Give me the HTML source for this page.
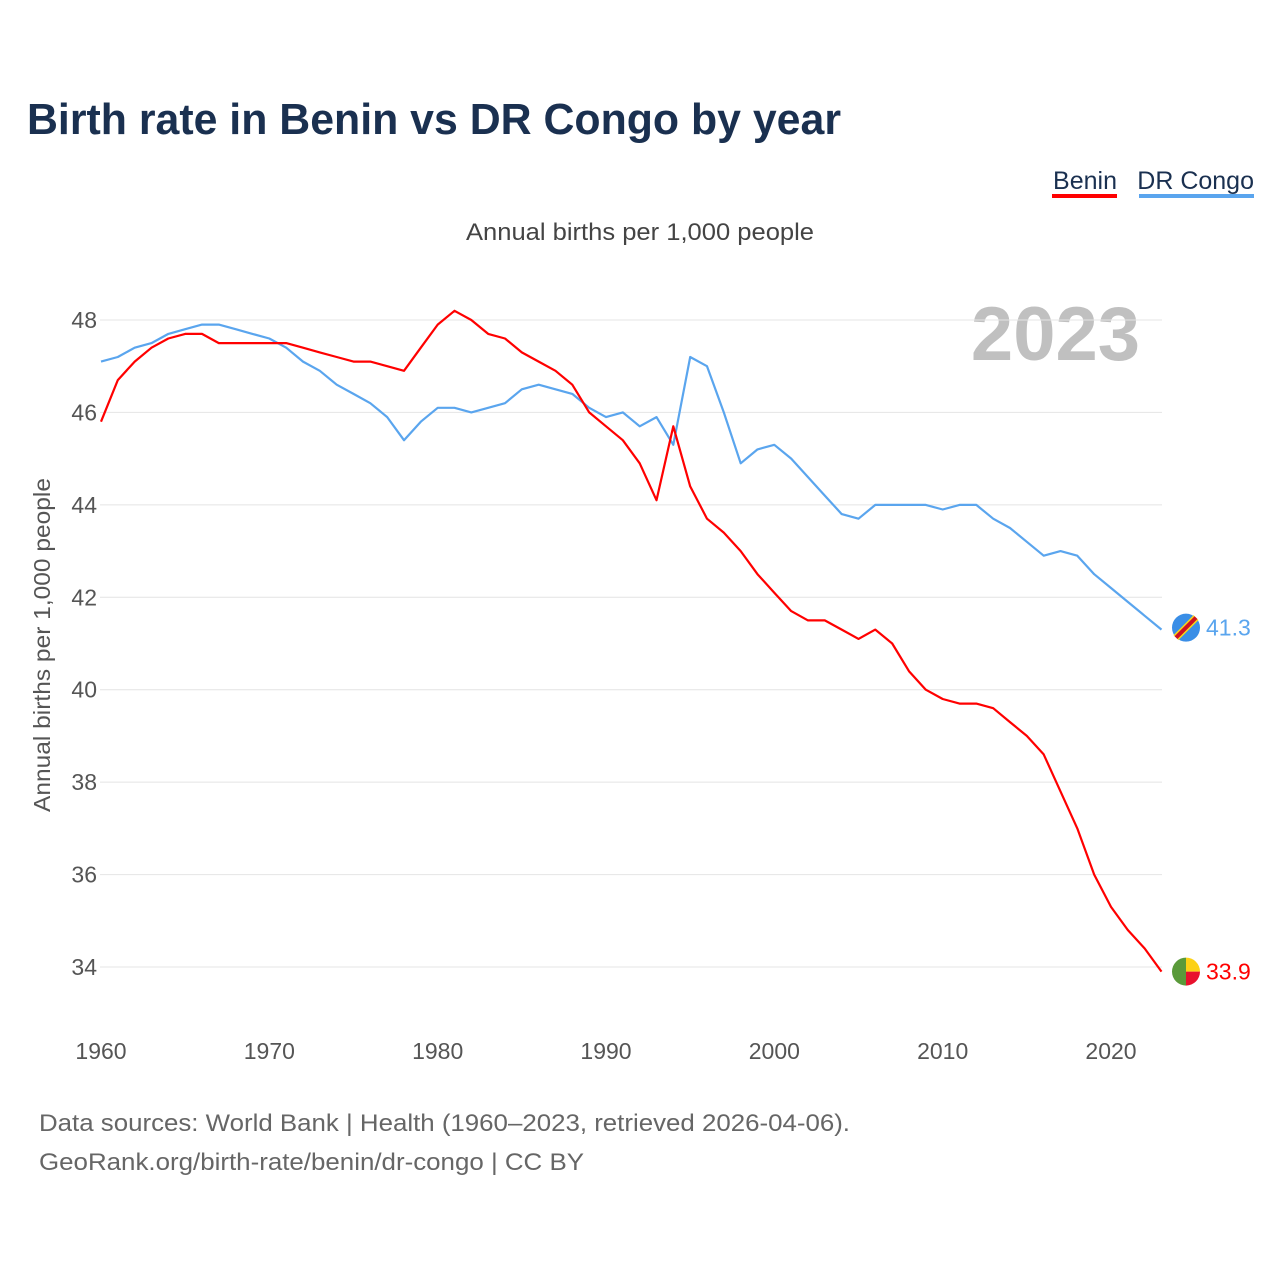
<!DOCTYPE html>
<html><head><meta charset="utf-8"><style>
body{margin:0;background:#fff;font-family:"Liberation Sans",sans-serif;}
#wrap{position:relative;width:1280px;height:1280px;overflow:hidden;}
</style></head><body>
<div id="wrap">
<svg id="chart" width="1280" height="1280"></svg>
</div>
<script>
const years=[];for(let y=1960;y<=2023;y++)years.push(y);
const benin=[45.8,46.7,47.1,47.4,47.6,47.7,47.7,47.5,47.5,47.5,47.5,47.5,47.4,47.3,47.2,47.1,47.1,47.0,46.9,47.4,47.9,48.2,48.0,47.7,47.6,47.3,47.1,46.9,46.6,46.0,45.7,45.4,44.9,44.1,45.7,44.4,43.7,43.4,43.0,42.5,42.1,41.7,41.5,41.5,41.3,41.1,41.3,41.0,40.4,40.0,39.8,39.7,39.7,39.6,39.3,39.0,38.6,37.8,37.0,36.0,35.3,34.8,34.4,33.9];
const congo=[47.1,47.2,47.4,47.5,47.7,47.8,47.9,47.9,47.8,47.7,47.6,47.4,47.1,46.9,46.6,46.4,46.2,45.9,45.4,45.8,46.1,46.1,46.0,46.1,46.2,46.5,46.6,46.5,46.4,46.1,45.9,46.0,45.7,45.9,45.3,47.2,47.0,46.0,44.9,45.2,45.3,45.0,44.6,44.2,43.8,43.7,44.0,44.0,44.0,44.0,43.9,44.0,44.0,43.7,43.5,43.2,42.9,43.0,42.9,42.5,42.2,41.9,41.6,41.3];
const yTicks=[34,36,38,40,42,44,46,48];
const xTicks=[1960,1970,1980,1990,2000,2010,2020];
const xs=y=>101+(y-1960)*(1010/60);
const ys=v=>967-(v-34)*(647/14);
const NS="http://www.w3.org/2000/svg";
const svg=document.getElementById('chart');
function mk(tag,attrs,text){const e=document.createElementNS(NS,tag);for(const k in attrs)e.setAttribute(k,attrs[k]);if(text!=null)e.textContent=text;svg.appendChild(e);return e;}
let t=mk('text',{x:27,y:134,'font-size':44,'font-weight':'bold',fill:'#1a3050',textLength:814,lengthAdjust:'spacingAndGlyphs'},'Birth rate in Benin vs DR Congo by year');


t=mk('text',{x:466,y:240,'font-size':24,fill:'#444',textLength:348,lengthAdjust:'spacingAndGlyphs'},'Annual births per 1,000 people');


t=mk('text',{x:1117,y:189,'font-size':25,fill:'#1a3050','text-anchor':'end'},'Benin');


t=mk('rect',{x:1052,y:194,width:65,height:4,fill:'#ff0000'});


t=mk('text',{x:1254,y:189,'font-size':25,fill:'#1a3050','text-anchor':'end'},'DR Congo');


t=mk('rect',{x:1139,y:194,width:115,height:4,fill:'#5aa5ee'});


t=mk('text',{x:1140,y:360,'font-size':76,'font-weight':'bold',fill:'#c0c0c0','text-anchor':'end'},'2023');


yTicks.forEach(v=>{
 let g=mk('line',{x1:100,x2:1162,y1:ys(v),y2:ys(v),stroke:'#e4e4e4','stroke-width':1});
 
 
 let l=mk('text',{x:97,y:ys(v)+8,'font-size':23,fill:'#555','text-anchor':'end'},v);
 
 
});
xTicks.forEach(v=>{
 let l=mk('text',{x:xs(v),y:1059,'font-size':23,fill:'#555','text-anchor':'middle'},v);
 
 
});
t=mk('text',{x:0,y:0,'font-size':23,fill:'#555','text-anchor':'middle',transform:'translate(50,645) rotate(-90)',textLength:334,lengthAdjust:'spacingAndGlyphs'},'Annual births per 1,000 people');


function line(data,color,name){
 const d=data.map((v,i)=>(i?'L':'M')+xs(years[i]).toFixed(1)+','+ys(v).toFixed(1)).join('');
 const p=mk('path',{d:d,fill:'none',stroke:color,'stroke-width':2.2,'stroke-linejoin':'round'});
 
 
}
line(congo,'#5aa5ee','dr-congo-line');
line(benin,'#ff0000','benin-line');
const lc=congo[congo.length-1], lb=benin[benin.length-1];
let cy=ys(lc)-2, by=ys(lb);
let c=mk('circle',{cx:1186,cy:cy,r:14,fill:'#3a8ee6'});


c=mk('line',{x1:1176,y1:cy+10,x2:1196,y2:cy-10,stroke:'#f7d618','stroke-width':7});


c=mk('line',{x1:1176,y1:cy+10,x2:1196,y2:cy-10,stroke:'#ce1021','stroke-width':4});


c=mk('path',{d:`M1186,${by-14}A14,14 0 0,0 1186,${by+14}Z`,fill:'#5a9a3a'});


c=mk('path',{d:`M1186,${by-14}A14,14 0 0,1 1200,${by}L1186,${by}Z`,fill:'#fcd116'});


c=mk('path',{d:`M1186,${by}L1200,${by}A14,14 0 0,1 1186,${by+14}Z`,fill:'#e8112d'});


t=mk('text',{x:1206,y:cy+8,'font-size':23,fill:'#5aa5ee'},lc.toFixed(1));


t=mk('text',{x:1206,y:by+8,'font-size':23,fill:'#ff0000'},lb.toFixed(1));


t=mk('text',{x:39,y:1131,'font-size':24,fill:'#666',textLength:811,lengthAdjust:'spacingAndGlyphs'},'Data sources: World Bank | Health (1960–2023, retrieved 2026-04-06).');


t=mk('text',{x:39,y:1170,'font-size':24,fill:'#666',textLength:545,lengthAdjust:'spacingAndGlyphs'},'GeoRank.org/birth-rate/benin/dr-congo | CC BY');


</script>
</body></html>
